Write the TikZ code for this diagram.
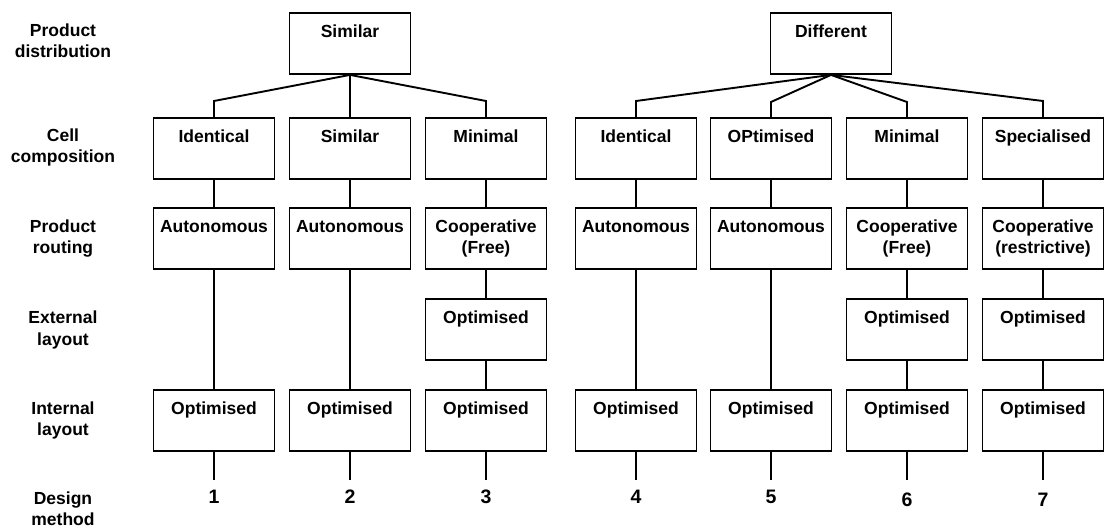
\documentclass[tikz,border=0pt]{standalone}
\usepackage{fontspec}
\setmainfont{Liberation Sans}
\newcommand\boxtext[1]{\parbox[t][61pt][t]{121pt}{\centering\rule{0pt}{25pt}#1}}
\newcommand\labtext[1]{\parbox[t]{150pt}{\centering #1}}
\begin{document}
\begin{tikzpicture}[x=1pt,y=-1pt,
  basefont/.style={font=\fontsize{17.5}{21}\selectfont\bfseries},
  stepbox/.style={basefont, draw, line width=1.9pt, inner sep=0pt, anchor=north},
  rowlabel/.style={basefont, inner sep=0pt, anchor=base},
  num/.style={font=\fontsize{19.5}{21}\selectfont\bfseries, inner sep=0pt, anchor=north, text height=23pt},
  numlow/.style={num, text height=26pt},
  link/.style={line width=1.9pt}]
\useasboundingbox (0,0) rectangle (1106,529);

% row labels
\node[rowlabel] (l1) at (63,37)  {\labtext{Product\\distribution}};
\node[rowlabel] (l2) at (63,142) {\labtext{Cell\\composition}};
\node[rowlabel] (l3) at (63,233) {\labtext{Product\\routing}};
\node[rowlabel] (l4) at (63,324) {\labtext{External\\layout}};
\node[rowlabel] (l5) at (63,414) {\labtext{Internal\\layout}};
\node[rowlabel] (l6) at (63,504) {\labtext{Design\\method}};

% top boxes
\node[stepbox] (sim) at (350,12) {\boxtext{Similar}};
\node[stepbox] (dif) at (831,12) {\boxtext{Different}};

% cell composition
\node[stepbox] (c1) at (214,117)  {\boxtext{Identical}};
\node[stepbox] (c2) at (350,117)  {\boxtext{Similar}};
\node[stepbox] (c3) at (486,117)  {\boxtext{Minimal}};
\node[stepbox] (c4) at (636,117)  {\boxtext{Identical}};
\node[stepbox] (c5) at (771,117)  {\boxtext{OPtimised}};
\node[stepbox] (c6) at (907,117)  {\boxtext{Minimal}};
\node[stepbox] (c7) at (1043,117) {\boxtext{Specialised}};

% product routing
\node[stepbox] (r1) at (214,207)  {\boxtext{Autonomous}};
\node[stepbox] (r2) at (350,207)  {\boxtext{Autonomous}};
\node[stepbox] (r3) at (486,207)  {\boxtext{Cooperative\\(Free)}};
\node[stepbox] (r4) at (636,207)  {\boxtext{Autonomous}};
\node[stepbox] (r5) at (771,207)  {\boxtext{Autonomous}};
\node[stepbox] (r6) at (907,207)  {\boxtext{Cooperative\\(Free)}};
\node[stepbox] (r7) at (1043,207) {\boxtext{Cooperative\\(restrictive)}};

% external layout
\node[stepbox] (e3) at (486,298)  {\boxtext{Optimised}};
\node[stepbox] (e6) at (907,298)  {\boxtext{Optimised}};
\node[stepbox] (e7) at (1043,298) {\boxtext{Optimised}};

% internal layout
\node[stepbox] (i1) at (214,389)  {\boxtext{Optimised}};
\node[stepbox] (i2) at (350,389)  {\boxtext{Optimised}};
\node[stepbox] (i3) at (486,389)  {\boxtext{Optimised}};
\node[stepbox] (i4) at (636,389)  {\boxtext{Optimised}};
\node[stepbox] (i5) at (771,389)  {\boxtext{Optimised}};
\node[stepbox] (i6) at (907,389)  {\boxtext{Optimised}};
\node[stepbox] (i7) at (1043,389) {\boxtext{Optimised}};

% design method numbers
\node[num] (n1) at (214,480) {1};
\node[num] (n2) at (350,480) {2};
\node[num] (n3) at (486,480) {3};
\node[num] (n4) at (636,480) {4};
\node[num] (n5) at (771,480) {5};
\node[numlow] (n6) at (907,480) {6};
\node[numlow] (n7) at (1043,480) {7};

% tree connectors
\draw[link] (sim.south) -- ([yshift=16pt]c1.north) -- (c1.north);
\draw[link] (sim.south) -- (c2.north);
\draw[link] (sim.south) -- ([yshift=16pt]c3.north) -- (c3.north);
\draw[link] (dif.south) -- ([yshift=16pt]c4.north) -- (c4.north);
\draw[link] (dif.south) -- ([yshift=15pt]c5.north) -- (c5.north);
\draw[link] (dif.south) -- ([yshift=15pt]c6.north) -- (c6.north);
\draw[link] (dif.south) -- ([yshift=16pt]c7.north) -- (c7.north);

% vertical connectors
\draw[link] (c1) -- (r1); \draw[link] (r1) -- (i1); \draw[link] (i1) -- (n1);
\draw[link] (c2) -- (r2); \draw[link] (r2) -- (i2); \draw[link] (i2) -- (n2);
\draw[link] (c3) -- (r3); \draw[link] (r3) -- (e3); \draw[link] (e3) -- (i3); \draw[link] (i3) -- (n3);
\draw[link] (c4) -- (r4); \draw[link] (r4) -- (i4); \draw[link] (i4) -- (n4);
\draw[link] (c5) -- (r5); \draw[link] (r5) -- (i5); \draw[link] (i5) -- (n5);
\draw[link] (c6) -- (r6); \draw[link] (r6) -- (e6); \draw[link] (e6) -- (i6); \draw[link] (i6) -- (n6);
\draw[link] (c7) -- (r7); \draw[link] (r7) -- (e7); \draw[link] (e7) -- (i7); \draw[link] (i7) -- (n7);
\end{tikzpicture}
\end{document}
